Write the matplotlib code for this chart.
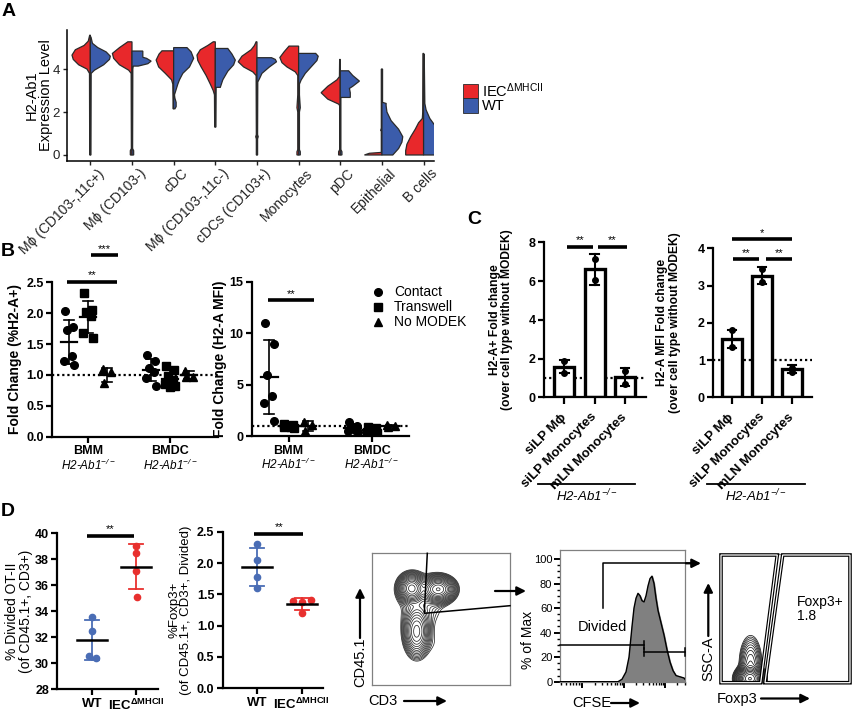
import numpy as np
import matplotlib
matplotlib.use("Agg")
import matplotlib.pyplot as plt
from matplotlib.patches import Rectangle, Polygon

plt.rcParams['font.family'] = ['Liberation Sans', 'DejaVu Sans']
plt.rcParams['mathtext.fontset'] = 'custom'
plt.rcParams['mathtext.rm'] = 'Liberation Sans'
plt.rcParams['mathtext.it'] = 'Liberation Sans:italic'
plt.rcParams['mathtext.bf'] = 'Liberation Sans:bold'
plt.rcParams['mathtext.default'] = 'regular'

# ---------------- DATA ----------------
# Panel A: split violins (y levels and half-widths)
a_cells = ['Mϕ (CD103-,11c+)', 'Mϕ (CD103-)', 'cDC', 'Mϕ (CD103-,11c-)',
           'cDCs (CD103+)', 'Monocytes', 'pDC', 'Epithelial', 'B cells']
a_iec_y = [
    [0, 3.8, 4.0, 4.2, 4.45, 4.65, 4.9, 5.1, 5.3, 5.58],
    [0, 0.2, 0.3, 3.8, 3.95, 4.2, 4.5, 4.73, 5.0, 5.27],
    [2.15, 2.5, 3.3, 3.5, 3.8, 4.1, 4.42, 4.7, 4.85],
    [1.3, 2.8, 3.0, 3.3, 3.7, 4.1, 4.4, 4.65, 4.9, 5.1, 5.27],
    [0, 0.75, 0.85, 0.95, 3.7, 3.87, 4.1, 4.34, 4.6, 4.9, 5.1, 5.27],
    [0, 0.15, 0.25, 2.0, 2.2, 2.5, 2.8, 3.7, 3.87, 4.1, 4.3, 4.54, 4.8, 5.07],
    [0, 0.15, 0.25, 2.3, 2.37, 2.6, 2.9, 3.2, 3.5, 3.65, 4.45],
    [0, 0.08, 0.12, 1.1, 1.15, 1.25, 4.0],
    [0, 0.2, 0.5, 0.85, 1.2, 1.5, 1.7, 2.0, 4.73],
]
a_iec_w = [
    [0.015, 0.02, 0.08, 0.28, 0.41, 0.44, 0.36, 0.15, 0.05, 0.015],
    [0.04, 0.04, 0.015, 0.02, 0.08, 0.3, 0.44, 0.47, 0.3, 0.1],
    [0.015, 0.015, 0.02, 0.05, 0.2, 0.36, 0.42, 0.35, 0.28],
    [0.015, 0.02, 0.05, 0.12, 0.22, 0.34, 0.42, 0.44, 0.36, 0.18, 0.05],
    [0.015, 0.015, 0.03, 0.015, 0.02, 0.1, 0.32, 0.45, 0.36, 0.14, 0.06, 0.02],
    [0.04, 0.04, 0.02, 0.02, 0.04, 0.03, 0.02, 0.02, 0.08, 0.28, 0.4, 0.45, 0.35, 0.23],
    [0.04, 0.04, 0.015, 0.015, 0.04, 0.3, 0.46, 0.3, 0.08, 0.02, 0.015],
    [0.42, 0.3, 0.015, 0.015, 0.03, 0.015, 0.015],
    [0.43, 0.43, 0.4, 0.31, 0.2, 0.12, 0.03, 0.02, 0.015],
]
a_wt_y = [
    [0, 3.8, 3.95, 4.2, 4.45, 4.6, 4.8, 5.0, 5.2, 5.5],
    [0, 0.2, 0.3, 4.0, 4.14, 4.14, 4.25, 4.37, 4.5, 4.55, 4.84],
    [2.15, 2.25, 2.45, 2.65, 2.8, 3.3, 3.5, 3.8, 4.1, 4.5, 4.8, 5.0],
    [1.3, 3.1, 3.15, 3.15, 3.5, 3.9, 4.2, 4.42, 4.7, 4.96],
    [0, 0.75, 0.85, 0.95, 3.4, 3.55, 3.8, 4.1, 4.34, 4.45, 4.53],
    [0, 0.15, 0.25, 2.0, 2.2, 2.5, 2.8, 3.3, 3.49, 3.8, 4.1, 4.4, 4.6, 4.73],
    [0, 0.15, 0.25, 2.6, 2.68, 2.68, 2.9, 3.1, 3.2, 3.44, 3.7, 3.92],
    [0, 0.3, 0.6, 0.85, 1.2, 1.6, 2.0, 2.3, 2.4, 2.45, 4.0],
    [0, 0.2, 0.6, 0.9, 1.3, 1.7, 2.1, 2.4, 4.7],
]
a_wt_w = [
    [0.015, 0.02, 0.1, 0.32, 0.46, 0.48, 0.38, 0.18, 0.05, 0.015],
    [0.04, 0.04, 0.015, 0.02, 0.03, 0.15, 0.38, 0.46, 0.35, 0.26, 0.26],
    [0.03, 0.06, 0.06, 0.03, 0.02, 0.1, 0.14, 0.22, 0.38, 0.48, 0.42, 0.32],
    [0.015, 0.02, 0.02, 0.12, 0.18, 0.3, 0.44, 0.48, 0.4, 0.3],
    [0.015, 0.015, 0.03, 0.015, 0.02, 0.06, 0.12, 0.3, 0.47, 0.44, 0.35],
    [0.04, 0.04, 0.02, 0.02, 0.04, 0.03, 0.02, 0.02, 0.06, 0.16, 0.3, 0.44, 0.47, 0.41],
    [0.04, 0.04, 0.015, 0.015, 0.015, 0.24, 0.24, 0.22, 0.3, 0.46, 0.3, 0.2],
    [0.26, 0.4, 0.48, 0.5, 0.4, 0.22, 0.12, 0.1, 0.1, 0.015, 0.015],
    [0.4, 0.45, 0.48, 0.42, 0.3, 0.15, 0.06, 0.03, 0.015],
]

# Panel B
b_groups = ['BMM', 'BMDC']
b_conditions = ['Contact', 'Transwell', 'No MODEK']
b1_bmm_contact = [2.04, 1.77, 1.72, 1.30, 1.22, 1.16]
b1_bmm_transwell = [2.32, 2.05, 2.02, 1.95, 1.68, 1.60]
b1_bmm_nomodek = [1.09, 1.04, 0.87]
b1_bmdc_contact = [1.32, 1.22, 1.12, 1.05, 0.95, 0.82]
b1_bmdc_transwell = [1.14, 1.08, 0.98, 0.92, 0.85, 0.82, 0.80]
b1_bmdc_nomodek = [1.07, 0.97, 0.96]
b2_bmm_contact = [11.0, 8.9, 5.9, 3.9, 3.2, 1.5]
b2_bmm_transwell = [1.15, 1.05, 0.95, 0.9, 0.85, 0.8]
b2_bmm_nomodek = [1.35, 1.1, 0.45]
b2_bmdc_contact = [1.4, 0.95, 0.75, 0.6, 0.5, 0.4]
b2_bmdc_transwell = [0.85, 0.75, 0.6, 0.5, 0.4, 0.3]
b2_bmdc_nomodek = [1.1, 1.0, 0.9]

# Panel C
c_cells = ['siLP Mϕ', 'siLP Monocytes', 'mLN Monocytes']
c1_mean = [1.58, 6.6, 1.03]
c1_sd = [0.33, 0.82, 0.46]
c1_pts = [[1.88, 1.27], [7.16, 6.04], [1.38, 0.70]]
c2_mean = [1.57, 3.26, 0.76]
c2_sd = [0.24, 0.23, 0.12]
c2_pts = [[1.8, 1.36], [3.45, 3.1], [0.8, 0.69]]

# Panel D
d_groups = ['WT', r'IEC$^{\mathbf{\Delta MHCII}}$']
d1_wt = [33.6, 32.5, 30.6, 30.4]
d1_iec = [39.0, 38.5, 37.1, 35.1]
d2_wt = [2.3, 2.05, 1.78, 1.6]
d2_iec = [1.40, 1.38, 1.41, 1.20]

# Flow: density cluster parameters (plot units 0-100)
f1_mx = [28.6, 47.9, 32.2, 36.0, 50.0]
f1_my = [73.4, 72.7, 40.5, 62.0, 30.0]
f1_sx = [4.5, 5.5, 4.5, 10.0, 8.0]
f1_sy = [5.0, 4.5, 9.0, 12.0, 8.0]
f1_w = [1.0, 1.15, 0.5, 0.06, 0.02]
f3_mx = [23.0, 23.5]
f3_my = [3.5, 15.0]
f3_sx = [4.5, 4.0]
f3_sy = [4.0, 10.0]
f3_w = [1.0, 0.12]
# CFSE histogram profile
cfse_x = [0, 46.4, 49.6, 52.8, 55.2, 57.6, 59.2, 60.8, 62.4, 64, 65.6, 67.2, 68.8, 70.4,
          72, 73.6, 75.2, 76.8, 78.4, 80.8, 83.2, 85.6, 88, 90.4, 92.8, 96, 99.2, 100]
cfse_pct = [0, 0, 2, 8, 20, 45, 60, 68, 72, 70, 66, 65, 70, 78,
            84, 86, 80, 68, 58, 48, 38, 26, 16, 9, 5, 4, 3, 2]

# ---------------- FIGURE ----------------
W, H = 853, 712
fig = plt.figure(figsize=(W / 100, H / 100), dpi=100)
RED = '#e8282b'
BLUE = '#3b5cab'
DRED = '#e8302e'
DBLUE = '#4a6db5'


def add_ax(x0, y0, x1, y1):
    return fig.add_axes([x0 / W, 1 - y1 / H, (x1 - x0) / W, (y1 - y0) / H])


def gp_axes(ax, lw=1.6):
    for s in ['top', 'right']:
        ax.spines[s].set_visible(False)
    for s in ['left', 'bottom']:
        ax.spines[s].set_linewidth(lw)
    ax.tick_params(width=lw, length=4, labelsize=9, pad=2)


# ---- Panel A ----
axA = add_ax(67, 30, 434, 161)
for i in range(len(a_cells)):
    for ys, ws, side, col in [(a_iec_y[i], a_iec_w[i], -1, RED), (a_wt_y[i], a_wt_w[i], 1, BLUE)]:
        ys = np.array(ys)
        ws = np.array(ws)
        px = np.concatenate([[i], i + side * ws, [i]])
        py = np.concatenate([[ys[0]], ys, [ys[-1]]])
        axA.fill(px, py, facecolor=col, edgecolor='#2a2a2a', lw=0.9, zorder=2)
axA.set_xlim(-0.56, 8.25)
axA.set_ylim(-0.28, 5.82)
for s in ['top', 'right']:
    axA.spines[s].set_visible(False)
for s in ['left', 'bottom']:
    axA.spines[s].set_linewidth(1.1)
axA.set_yticks([0, 2, 4])
axA.tick_params(length=3, width=1.0, labelsize=9.5, pad=2, colors='#222222')
axA.set_xticks(range(len(a_cells)))
axA.set_xticklabels([])
for i, lab in enumerate(a_cells):
    axA.annotate(lab, xy=(i, 0), xycoords=axA.get_xaxis_transform(), xytext=(5, -4),
                 textcoords='offset points', rotation=45, ha='right', va='top',
                 rotation_mode='anchor', fontsize=10, color='#222222')
axA.set_ylabel('H2-Ab1\nExpression Level', fontsize=10.5, linespacing=1.05)
axA.yaxis.set_label_coords(-0.038, 0.5)

# ---- Panel B ----
OFF = [-0.23, 0.0, 0.23]
JIT = np.array([-0.05, 0.05, -0.03, 0.03, -0.06, 0.06, 0.0])
MARK = ['o', 's', '^']


def dotplot(ax, data, mw=0.1, cw=0.06):
    for gi, grp in enumerate(data):
        for ci, vals in enumerate(grp):
            xc = gi + OFF[ci]
            v = np.array(vals)
            ax.plot(xc + JIT[:len(v)], v, ls='none', marker=MARK[ci], ms=5.5, color='black', zorder=3)
            m, s = v.mean(), v.std(ddof=1)
            ax.plot([xc - mw, xc + mw], [m, m], color='black', lw=1.6, zorder=4)
            ax.plot([xc, xc], [m - s, m + s], color='black', lw=1.2, zorder=4)
            for e in (m - s, m + s):
                ax.plot([xc - cw, xc + cw], [e, e], color='black', lw=1.2, zorder=4)


def group_labels(ax):
    ax.set_xticks([0, 1])
    ax.set_xticklabels([])
    for gi, g in enumerate(b_groups):
        ax.annotate(g, xy=(gi, 0), xycoords=ax.get_xaxis_transform(), xytext=(0, -10.5),
                    textcoords='offset points', ha='center', va='center', fontsize=9,
                    fontweight='bold')
        ax.annotate('H2-Ab1$^{-/-}$', xy=(gi, 0), xycoords=ax.get_xaxis_transform(),
                    xytext=(0, -20.5), textcoords='offset points', ha='center', va='center',
                    fontsize=8.5, style='italic')


def sigbar(ax, x0, x1, y, txt, dy, fs=8):
    ax.plot([x0, x1], [y, y], color='black', lw=2.6, clip_on=False, solid_capstyle='butt', zorder=5)
    ax.text((x0 + x1) / 2, y + dy, txt, ha='center', va='bottom', fontsize=fs, clip_on=False)


axB1 = add_ax(52, 282.3, 218, 436.7)
gp_axes(axB1)
axB1.axhline(1, color='black', ls=(0, (1, 1.3)), lw=1.6, zorder=1)
dotplot(axB1, [[b1_bmm_contact, b1_bmm_transwell, b1_bmm_nomodek],
               [b1_bmdc_contact, b1_bmdc_transwell, b1_bmdc_nomodek]])
axB1.set_xlim(-0.44, 1.585)
axB1.set_ylim(0, 2.5)
axB1.set_yticks([0, 0.5, 1.0, 1.5, 2.0, 2.5], labels=['0.0', '0.5', '1.0', '1.5', '2.0', '2.5'],
                fontweight='bold')
group_labels(axB1)
axB1.set_ylabel('Fold Change (%H2-A+)', fontsize=10, fontweight='bold')
axB1.yaxis.set_label_coords(-0.18, 0.5)
sigbar(axB1, -0.26, 0.357, 2.51, '**', 0.02)
sigbar(axB1, 0.033, 0.37, 2.94, '***', 0.02)

axB2 = add_ax(252, 281.7, 409, 436)
gp_axes(axB2)
axB2.axhline(1, color='black', ls=(0, (1, 1.3)), lw=1.6, zorder=1)
dotplot(axB2, [[b2_bmm_contact, b2_bmm_transwell, b2_bmm_nomodek],
               [b2_bmdc_contact, b2_bmdc_transwell, b2_bmdc_nomodek]])
axB2.set_xlim(-0.44, 1.447)
axB2.set_ylim(0, 15)
axB2.set_yticks([0, 5, 10, 15], labels=['0', '5', '10', '15'], fontweight='bold')
group_labels(axB2)
axB2.set_ylabel('Fold Change (H2-A MFI)', fontsize=10, fontweight='bold')
axB2.yaxis.set_label_coords(-0.16, 0.5)
sigbar(axB2, -0.25, 0.31, 13.2, '**', 0.15)


# ---- Panel C ----
def barpanel(ax, means, sds, pts, ymax, yt):
    gp_axes(ax)
    ax.axhline(1, color='black', ls=(0, (1, 1.3)), lw=1.6, zorder=1)
    x = np.arange(len(means))
    ax.bar(x, means, width=0.66, color='white', edgecolor='black', linewidth=2.4, zorder=2)
    for i in range(len(means)):
        m, s = means[i], sds[i]
        ax.plot([i, i], [m - s, m + s], color='black', lw=1.5, zorder=3)
        for e in (m - s, m + s):
            ax.plot([i - 0.14, i + 0.14], [e, e], color='black', lw=1.5, zorder=3)
        ax.plot([i] * len(pts[i]), pts[i], ls='none', marker='o', ms=4, color='black', zorder=4)
    ax.set_ylim(0, ymax)
    ax.set_yticks(yt, labels=[str(v) for v in yt], fontweight='bold')
    ax.set_xticks(x)
    ax.set_xticklabels(c_cells, rotation=45, ha='right', va='center', rotation_mode='anchor',
                       fontweight='bold', fontsize=9.5)
    ax.tick_params(axis='x', length=5, pad=8)


axC1 = add_ax(544, 242.3, 645.7, 397.3)
barpanel(axC1, c1_mean, c1_sd, c1_pts, 8, [0, 2, 4, 6, 8])
axC1.set_xlim(-0.67, 2.68)
axC1.set_ylabel('H2-A+ Fold change\n(over cell type without MODEK)', fontsize=8.7,
                fontweight='bold', linespacing=1.1)
axC1.yaxis.set_label_coords(-0.3, 0.5)
sigbar(axC1, 0.1, 0.95, 7.74, '**', 0.1)
sigbar(axC1, 1.12, 2.05, 7.74, '**', 0.1)

axC2 = add_ax(713.3, 248.3, 811.7, 397.3)
barpanel(axC2, c2_mean, c2_sd, c2_pts, 4, [0, 1, 2, 3, 4])
axC2.set_xlim(-0.63, 2.65)
axC2.set_ylabel('H2-A MFI Fold change\n(over cell type without MODEK)', fontsize=8.7,
                fontweight='bold', linespacing=1.1)
axC2.yaxis.set_label_coords(-0.33, 0.5)
sigbar(axC2, 0.0, 1.98, 4.25, '*', 0.03)
sigbar(axC2, 0.03, 0.9, 3.7, '**', 0.03)
sigbar(axC2, 1.12, 1.98, 3.7, '**', 0.03)


# ---- Panel D ----
def dpanel(ax, wt, iec, jw, ji):
    gp_axes(ax)
    for gi, (vals, col, jit) in enumerate([(wt, DBLUE, jw), (iec, DRED, ji)]):
        v = np.array(vals)
        ax.plot(gi + np.array(jit), v, ls='none', marker='o', ms=4.5, color=col, zorder=3)
        m, s = v.mean(), v.std(ddof=1)
        ax.plot([gi, gi], [m - s, m + s], color=col, lw=1.3, zorder=2)
        for e in (m - s, m + s):
            ax.plot([gi - 0.16, gi + 0.16], [e, e], color=col, lw=1.3, zorder=2)
        ax.plot([gi - 0.34, gi + 0.34], [m, m], color='black', lw=1.8, zorder=4)
    ax.set_xticks([0, 1], labels=d_groups, fontweight='bold', fontsize=9.5)


axD1 = add_ax(57.3, 533.3, 158, 689.3)
dpanel(axD1, d1_wt, d1_iec, [0.0, 0.0, -0.06, 0.1], [0.0, 0.0, 0.0, 0.02])
axD1.set_xlim(-0.79, 1.5)
axD1.set_ylim(28, 40)
axD1.set_yticks([28, 30, 32, 34, 36, 38, 40], labels=['28', '30', '32', '34', '36', '38', '40'],
                fontweight='bold')
axD1.set_ylabel('% Divided OT-II\n(of CD45.1+, CD3+)', fontsize=10, linespacing=1.0)
axD1.yaxis.set_label_coords(-0.245, 0.5)
sigbar(axD1, -0.11, 0.95, 39.8, '**', 0.12)

axD2 = add_ax(222.7, 531.7, 323.4, 688.3)
dpanel(axD2, d2_wt, d2_iec, [0.0, 0.0, 0.0, 0.0], [-0.2, 0.0, 0.2, 0.0])
axD2.set_xlim(-0.78, 1.49)
axD2.set_ylim(0, 2.5)
axD2.set_yticks([0, 0.5, 1.0, 1.5, 2.0, 2.5], labels=['0.0', '0.5', '1.0', '1.5', '2.0', '2.5'],
                fontweight='bold')
axD2.set_ylabel('%Foxp3+\n(of CD45.1+, CD3+, Divided)', fontsize=9.5, linespacing=1.0)
axD2.yaxis.set_label_coords(-0.3, 0.5)
sigbar(axD2, -0.07, 1.04, 2.47, '**', 0.025)


# ---- Flow panels ----
def flow_frame(ax):
    ax.set_xticks([])
    ax.set_yticks([])
    for s in ax.spines.values():
        s.set_color('#808080')
        s.set_linewidth(0.9)


def density(mx, my, sx, sy, w):
    gx, gy = np.meshgrid(np.linspace(0, 100, 300), np.linspace(0, 100, 300))
    z = np.zeros_like(gx)
    for a, b, c, d, e in zip(mx, my, sx, sy, w):
        z += e * np.exp(-((gx - a) ** 2 / (2 * c ** 2) + (gy - b) ** 2 / (2 * d ** 2)))
    return gx, gy, z


axF1 = add_ax(372.3, 553.3, 510, 685)
gx, gy, z = density(f1_mx, f1_my, f1_sx, f1_sy, f1_w)
axF1.contour(gx, gy, z, levels=np.geomspace(z.max() * 0.02, z.max() * 0.97, 18),
             colors='#2b2b2b', linewidths=0.55)
axF1.set_xlim(0, 100)
axF1.set_ylim(0, 100)
flow_frame(axF1)

axF2 = add_ax(560, 550, 685, 681.7)
axF2.fill_between(cfse_x, cfse_pct, color='#808080', zorder=2)
axF2.plot(cfse_x, cfse_pct, color='black', lw=1.0, zorder=3)
axF2.set_xlim(0, 100)
axF2.set_ylim(0, 107.3)
for s in axF2.spines.values():
    s.set_color('#808080')
    s.set_linewidth(0.9)
axF2.set_yticks([0, 20, 40, 60, 80, 100])
axF2.set_yticks(np.arange(0, 101, 5), minor=True)
dec = [18.0, 51.0, 84.0]
maj_x = dec
min_x = [m + 33.0 * np.log10(k) for m in [-15.0] + dec for k in range(2, 10)]
min_x = [v for v in min_x if 0 < v < 100]
axF2.set_xticks(maj_x)
axF2.set_xticks(min_x, minor=True)
axF2.set_xticklabels([])
axF2.tick_params(which='major', length=4, width=1.4, labelsize=8, pad=1.5, color='black')
axF2.tick_params(which='minor', length=2.5, width=1.0, color='black')

axF3 = add_ax(720, 554, 850, 683.3)
gx, gy, z = density(f3_mx, f3_my, f3_sx, f3_sy, f3_w)
axF3.contour(gx, gy, z, levels=np.geomspace(z.max() * 0.01, z.max() * 0.97, 18),
             colors='#1a1a1a', linewidths=0.55)
axF3.set_xlim(0, 100)
axF3.set_ylim(0, 100)
flow_frame(axF3)

# ---------------- OVERLAY (annotations in pixel coords) ----------------
ov = fig.add_axes([0, 0, 1, 1], zorder=10)
ov.set_xlim(0, W)
ov.set_ylim(H, 0)
ov.axis('off')
ov.patch.set_alpha(0)

for lab, (x, y) in {'A': (9, 12), 'B': (8, 251), 'C': (474, 219), 'D': (8, 512)}.items():
    ov.text(x, y, lab, fontsize=14, fontweight='bold', ha='center', va='center')

# Panel A legend
ov.add_patch(Rectangle((463, 84), 15, 14, facecolor=RED, edgecolor='#2a2a2a', lw=0.6))
ov.add_patch(Rectangle((463, 98), 15, 15, facecolor=BLUE, edgecolor='#2a2a2a', lw=0.6))
ov.text(482, 91, r'IEC$^{\Delta MHCII}$', fontsize=10.5, va='center', ha='left')
ov.text(482, 106, 'WT', fontsize=10.5, va='center', ha='left')

# Panel B legend
for yy, mk, lab in zip([291.7, 306.7, 322.3], MARK, b_conditions):
    ov.plot([377.7], [yy], marker=mk, ms=5.5, color='black', ls='none')
    ov.text(394, yy, lab, fontsize=10, va='center', ha='left')

# Panel C underline
for x0, x1 in [(538, 635), (706.7, 805)]:
    ov.plot([x0, x1], [483.5, 483.5], color='black', lw=1.3)
    ov.text((x0 + x1) / 2, 495.5, 'H2-Ab1$^{-/-}$', fontsize=9.5, style='italic',
            ha='center', va='center')

# Flow annotations
arrow = dict(arrowstyle='-|>', color='black', lw=1.6, mutation_scale=13, shrinkA=0, shrinkB=0)
ov.text(360, 662, 'CD45.1', rotation=90, fontsize=10.5, ha='center', va='center')
ov.annotate('', xy=(360, 588), xytext=(360, 638), arrowprops=arrow)
ov.text(383, 701, 'CD3', fontsize=10.5, ha='center', va='center')
ov.annotate('', xy=(447, 701), xytext=(404, 701), arrowprops=arrow)
ov.plot([427.3, 424.3, 510], [553.3, 613.3, 605.7], color='black', lw=1.1)
ov.annotate('', xy=(526, 591), xytext=(495, 591), arrowprops=arrow)

ov.text(528, 640, '% of Max', rotation=90, fontsize=10, ha='center', va='center')
ov.text(591.5, 703, 'CFSE', fontsize=10.5, ha='center', va='center')
ov.annotate('', xy=(640, 703), xytext=(611, 703), arrowprops=arrow)
ov.text(602, 627, 'Divided', fontsize=10.5, ha='center', va='center')
ov.plot([560, 644], [645, 645], color='black', lw=1.1)
ov.plot([644, 644], [641, 649], color='black', lw=1.1)
ov.plot([644, 685], [652, 652], color='black', lw=1.1)
ov.plot([644, 644], [648, 656], color='black', lw=1.1)
ov.plot([685, 685], [648, 656], color='black', lw=1.1)
ov.plot([603.3, 603.3, 690], [608.3, 563.3, 563.3], color='black', lw=1.1)
ov.annotate('', xy=(701, 563.3), xytext=(686, 563.3), arrowprops=arrow)

ov.text(708.3, 659, 'SSC-A', rotation=90, fontsize=10.5, ha='center', va='center')
ov.annotate('', xy=(708.3, 583), xytext=(708.3, 636), arrowprops=arrow)
ov.text(737.5, 698.5, 'Foxp3', fontsize=10.5, ha='center', va='center')
ov.annotate('', xy=(810, 698.5), xytext=(761, 698.5), arrowprops=arrow)
for poly in ([(721, 555), (777.3, 555), (760.7, 682.7), (721, 682.7)],
             [(782.7, 555), (850, 555), (850, 682.7), (765, 682.7)]):
    ov.add_patch(Polygon(poly, closed=True, fill=False, edgecolor='black', lw=2.6, joinstyle='miter'))
    ov.add_patch(Polygon(poly, closed=True, fill=False, edgecolor='white', lw=0.9, joinstyle='miter'))
ov.text(797, 602, 'Foxp3+', fontsize=10, ha='left', va='center')
ov.text(797, 616, '1.8', fontsize=10, ha='left', va='center')

fig.savefig('out.png', dpi=100)
